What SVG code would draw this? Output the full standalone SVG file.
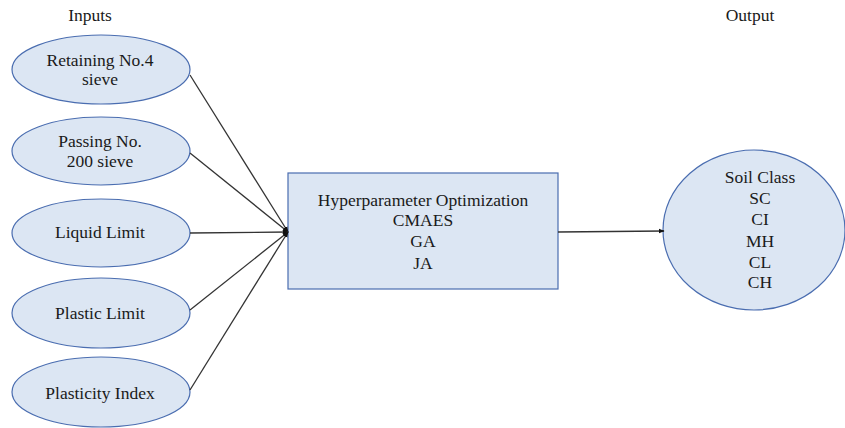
<svg xmlns="http://www.w3.org/2000/svg" width="845" height="428" viewBox="0 0 845 428">
  <style>
    .node { fill: #dce6f3; stroke: #4a6db0; stroke-width: 1.2; }
    .label { font-family: "Liberation Serif", "Times New Roman", serif; font-size: 17.5px; fill: #1a1a1a; text-anchor: middle; }
    .edge { stroke: #333333; stroke-width: 1.3; fill: none; marker-end: url(#arrow); }
  </style>
  <defs>
    <marker id="arrow" viewBox="0 0 10 10" refX="9" refY="5" markerWidth="6" markerHeight="6" markerUnits="userSpaceOnUse" orient="auto">
      <path d="M0,1 L10,5 L0,9 z" fill="#111111"/>
    </marker>
  </defs>
  <rect width="845" height="428" fill="#ffffff"/>

  <text class="label" x="90" y="21">Inputs</text>
  <text class="label" x="750" y="21">Output</text>

  <g id="retaining">
    <ellipse class="node" cx="101" cy="69.5" rx="89" ry="34.5"/>
    <text class="label" x="100" y="66">Retaining No.4</text>
    <text class="label" x="100" y="85">sieve</text>
  </g>
  <g id="passing">
    <ellipse class="node" cx="101" cy="151" rx="89" ry="34"/>
    <text class="label" x="100" y="147">Passing No.</text>
    <text class="label" x="100" y="167">200 sieve</text>
  </g>
  <g id="liquid-limit">
    <ellipse class="node" cx="101" cy="233" rx="89" ry="34"/>
    <text class="label" x="100" y="238">Liquid Limit</text>
  </g>
  <g id="plastic-limit">
    <ellipse class="node" cx="101" cy="313" rx="89" ry="35"/>
    <text class="label" x="100" y="319">Plastic Limit</text>
  </g>
  <g id="plasticity-index">
    <ellipse class="node" cx="101" cy="392" rx="89" ry="35"/>
    <text class="label" x="100" y="399">Plasticity Index</text>
  </g>

  <g id="optimization">
    <rect class="node" x="288" y="173" width="270" height="116"/>
    <text class="label" x="423" y="206">Hyperparameter Optimization</text>
    <text class="label" x="423" y="226">CMAES</text>
    <text class="label" x="423" y="247">GA</text>
    <text class="label" x="423" y="269">JA</text>
  </g>

  <g id="soil-class">
    <ellipse class="node" cx="754" cy="230" rx="91" ry="80"/>
    <text class="label" x="760" y="183">Soil Class</text>
    <text class="label" x="760" y="204">SC</text>
    <text class="label" x="760" y="225">CI</text>
    <text class="label" x="760" y="247">MH</text>
    <text class="label" x="760" y="268">CL</text>
    <text class="label" x="760" y="288">CH</text>
  </g>

  <g id="connectors">
    <line class="edge" x1="190" y1="75" x2="288" y2="232"/>
    <line class="edge" x1="190" y1="153" x2="288" y2="232"/>
    <line class="edge" x1="190" y1="233" x2="288" y2="232"/>
    <line class="edge" x1="190" y1="310" x2="288" y2="232"/>
    <line class="edge" x1="190" y1="390" x2="288" y2="232"/>
    <line class="edge" x1="558" y1="232" x2="664" y2="231"/>
  </g>
</svg>
